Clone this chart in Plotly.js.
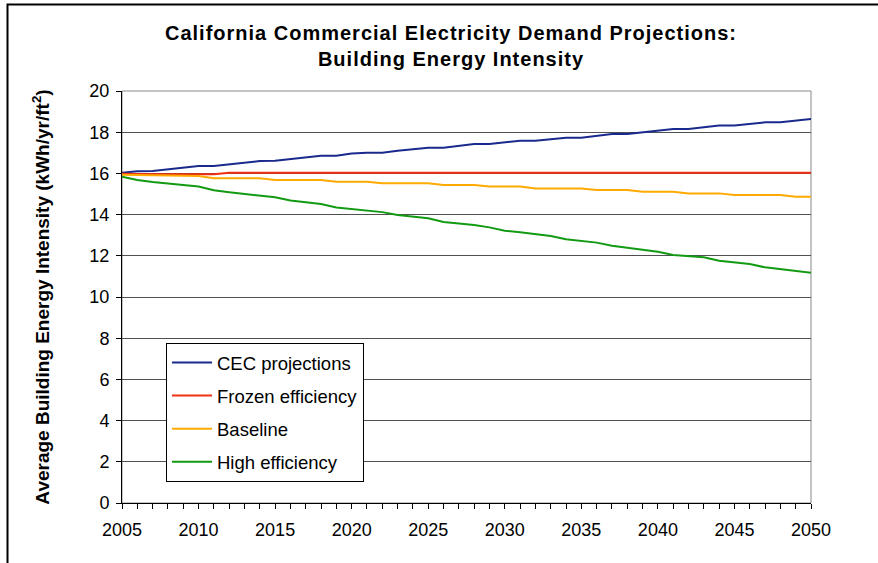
<!DOCTYPE html>
<html>
<head>
<meta charset="utf-8">
<script src="https://cdn.plot.ly/plotly-3.0.1.min.js"></script>
<style>
  html, body { margin: 0; padding: 0; background: #fff; }
  #chart { width: 878px; height: 563px; }
  .gtitle { letter-spacing: 1.0px; }
</style>
</head>
<body>
<div id="chart"></div>
<script>
const years = [2005,2006,2007,2008,2009,2010,2011,2012,2013,2014,2015,2016,2017,2018,2019,2020,2021,2022,2023,2024,2025,2026,2027,2028,2029,2030,2031,2032,2033,2034,2035,2036,2037,2038,2039,2040,2041,2042,2043,2044,2045,2046,2047,2048,2049,2050];

const cecProjections = [16.03,16.10,16.12,16.21,16.28,16.36,16.36,16.45,16.52,16.60,16.61,16.70,16.77,16.86,16.86,16.97,17.00,17.00,17.10,17.18,17.25,17.25,17.35,17.43,17.43,17.52,17.59,17.59,17.66,17.73,17.73,17.83,17.91,17.91,18.00,18.08,18.16,18.16,18.25,18.32,18.32,18.40,18.48,18.48,18.56,18.64];

const frozenEfficiency = [15.98,15.96,15.96,15.96,15.96,15.96,15.96,16.03,16.03,16.03,16.03,16.03,16.03,16.03,16.03,16.03,16.03,16.03,16.03,16.03,16.03,16.03,16.03,16.03,16.03,16.03,16.03,16.03,16.03,16.03,16.03,16.03,16.03,16.03,16.03,16.03,16.03,16.03,16.03,16.03,16.03,16.03,16.03,16.03,16.03,16.03];

const baseline = [15.93,15.92,15.91,15.90,15.88,15.87,15.77,15.76,15.76,15.76,15.68,15.68,15.68,15.68,15.60,15.60,15.60,15.52,15.52,15.52,15.52,15.44,15.44,15.44,15.36,15.36,15.36,15.27,15.27,15.27,15.27,15.19,15.19,15.19,15.11,15.11,15.11,15.03,15.03,15.03,14.95,14.95,14.95,14.95,14.87,14.87];

const highEfficiency = [15.84,15.68,15.58,15.52,15.44,15.36,15.18,15.09,15.00,14.92,14.84,14.68,14.60,14.51,14.35,14.27,14.20,14.12,13.98,13.90,13.82,13.64,13.56,13.50,13.38,13.22,13.14,13.06,12.96,12.80,12.72,12.64,12.49,12.40,12.31,12.20,12.04,11.98,11.93,11.76,11.68,11.60,11.44,11.36,11.28,11.18];

const seriesNames = ["CEC projections","Frozen efficiency","Baseline","High efficiency"];
const xTickLabels = ["2005","2010","2015","2020","2025","2030","2035","2040","2045","2050"];
const xTickVals = [2005,2010,2015,2020,2025,2030,2035,2040,2045,2050];
const yTickVals = [0,2,4,6,8,10,12,14,16,18,20];

const seriesValues = [cecProjections, frozenEfficiency, baseline, highEfficiency];
const colors = ["#1a2a8c","#f03010","#ffaa00","#129a12"];

const traces = seriesNames.map((name, i) => ({
  type: "scatter",
  mode: "lines",
  name: name,
  legendgroup: "g" + i,
  x: years,
  y: seriesValues[i],
  line: { color: colors[i], width: 2 },
  hoverinfo: "skip"
}));

// plot area: x 122..811, y 91..503 in an 878x563 page
const L = 122, R = 811, T = 91, B = 503;
const pw = R - L, ph = B - T;
const px = v => (v - L) / pw;
const py = v => (B - v) / ph;

const layout = {
  width: 878,
  height: 563,
  margin: { l: L, r: 878 - R, t: T, b: 563 - B, pad: 0 },
  paper_bgcolor: "#ffffff",
  plot_bgcolor: "#ffffff",
  font: { family: "Liberation Sans, Arial, sans-serif", color: "#000" },
  showlegend: true,
  title: {
    text: "California Commercial Electricity Demand Projections:<br>Building Energy Intensity",
    font: { family: "Liberation Sans, Arial, sans-serif", size: 20, weight: "bold", color: "#000" },
    xref: "container",
    x: 451 / 878,
    xanchor: "center",
    yref: "container",
    y: 1 - 40 / 563,
    yanchor: "middle"
  },
  xaxis: {
    range: [2005, 2050],
    tickmode: "array",
    tickvals: xTickVals,
    ticktext: xTickLabels,
    ticks: "outside",
    ticklen: 5,
    tickwidth: 1,
    tickcolor: "#000",
    ticklabelstandoff: 5,
    minor: { dtick: 1, ticks: "outside", ticklen: 5, tickwidth: 1, tickcolor: "#000", showgrid: false },
    showgrid: false,
    zeroline: false,
    showline: true,
    linecolor: "#000",
    linewidth: 1,
    tickfont: { size: 18, color: "#000" },
    fixedrange: true
  },
  yaxis: {
    range: [0, 20],
    tickmode: "array",
    tickvals: yTickVals,
    ticks: "outside",
    ticklen: 5,
    tickwidth: 1,
    tickcolor: "#000",
    ticklabelstandoff: 3,
    showgrid: true,
    gridcolor: "#505050",
    gridwidth: 1,
    zeroline: false,
    showline: true,
    linecolor: "#000",
    linewidth: 1,
    tickfont: { size: 18, color: "#000" },
    title: {
      text: "Average Building Energy Intensity (kWh/yr/ft<sup>2</sup>)",
      font: { size: 19, weight: "bold", color: "#000" },
      standoff: 34
    },
    fixedrange: true
  },
  legend: {
    x: px(166),
    y: py(343),
    xanchor: "left",
    yanchor: "top",
    bgcolor: "#ffffff",
    bordercolor: "#000",
    borderwidth: 1,
    font: { size: 18.5, color: "#000" },
    tracegroupgap: 6,
    itemwidth: 40,
    traceorder: "grouped"
  },
  shapes: [
    { type: "rect", xref: "paper", yref: "paper", x0: 0, x1: 1, y0: 0, y1: 1,
      line: { color: "#888888", width: 1 }, layer: "below" },
    { type: "rect", xref: "paper", yref: "paper",
      x0: px(7.5), x1: px(960), y0: py(640), y1: py(4.5),
      line: { color: "#000", width: 2 }, fillcolor: "rgba(0,0,0,0)", layer: "below" }
  ]
};

Plotly.newPlot("chart", traces, layout, { staticPlot: true, displayModeBar: false });
</script>
</body>
</html>
